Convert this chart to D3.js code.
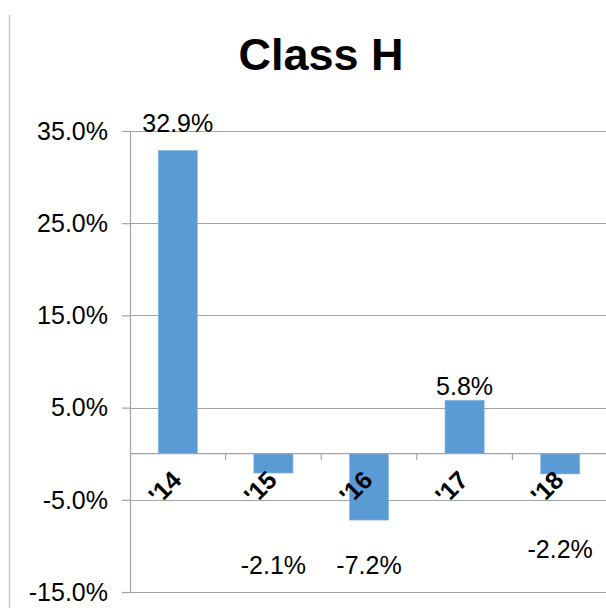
<!DOCTYPE html>
<html>
<head>
<meta charset="utf-8">
<script src="https://cdn.jsdelivr.net/npm/d3@7"></script>
<style>
  html, body { margin: 0; padding: 0; background: #fff; }
  svg { display: block; font-family: "Liberation Sans", Arial, sans-serif; }
</style>
</head>
<body>
<svg id="chart" width="606" height="608"></svg>
<script>
// ---- data ----
const title = "Class H";
const categories = ["'14", "'15", "'16", "'17", "'18"];
const values = [32.9, -2.1, -7.2, 5.8, -2.2];
const valueLabels = ["32.9%", "-2.1%", "-7.2%", "5.8%", "-2.2%"];
// label baseline positions, in value units (labels were placed by hand in the original)
const labelAt = [34.9, -13.1, -13.1, 6.4, -11.3];
const yTicks = [-15, -5, 5, 15, 25, 35];

// ---- layout ----
const svg = d3.select("#chart");
const W = 606, H = 608;
const plotLeft = 130, plotRight = 608, plotTop = 131, plotBottom = 592;

const x = d3.scaleBand().domain(categories).range([plotLeft, plotRight]).padding(0);
const y = d3.scaleLinear().domain([-15, 35]).range([plotBottom, plotTop]);
const barW = x.bandwidth() * 0.41;
const gridColor = "#a3a3a3";

// chart-area left border
svg.append("line")
  .attr("x1", 9.5).attr("x2", 9.5).attr("y1", 15).attr("y2", H)
  .attr("stroke", "#c8c8c8").attr("stroke-width", 1.5);

// title
svg.append("text")
  .attr("x", 321).attr("y", 70)
  .attr("text-anchor", "middle")
  .attr("font-size", 45).attr("font-weight", "bold")
  .attr("fill", "#000")
  .text(title);

// gridlines
svg.append("g").selectAll("line").data(yTicks).join("line")
  .attr("x1", plotLeft).attr("x2", W)
  .attr("y1", d => Math.round(y(d)) + 0.5).attr("y2", d => Math.round(y(d)) + 0.5)
  .attr("stroke", gridColor).attr("stroke-width", 1.2);

// y axis
const yAxis = d3.axisLeft(y)
  .tickValues(yTicks)
  .tickSize(8)
  .tickPadding(14)
  .tickFormat(d => d.toFixed(1) + "%");
const gy = svg.append("g").attr("transform", `translate(${plotLeft},0)`).call(yAxis);
gy.select(".domain").attr("stroke", gridColor).attr("stroke-width", 1.2);
gy.selectAll(".tick line").attr("stroke", gridColor).attr("stroke-width", 1.2);
gy.selectAll(".tick text")
  .attr("font-size", 25).attr("fill", "#000")
  .attr("font-family", "'Liberation Sans', Arial, sans-serif")
  .attr("dy", "0.33em");

// bars
svg.append("g").selectAll("rect").data(values).join("rect")
  .attr("x", (d, i) => x(categories[i]) + (x.bandwidth() - barW) / 2)
  .attr("y", d => y(Math.max(0, d)))
  .attr("width", barW)
  .attr("height", d => Math.abs(y(d) - y(0)))
  .attr("fill", "#5b9bd5")
  .attr("stroke", "#8fbce6").attr("stroke-width", 0.6);

// zero axis (category axis) with tick marks
const y0 = y(0);
svg.append("line")
  .attr("x1", plotLeft).attr("x2", W).attr("y1", y0).attr("y2", y0)
  .attr("stroke", gridColor).attr("stroke-width", 1.2);
svg.append("g").selectAll("line").data(categories.slice(1)).join("line")
  .attr("x1", d => x(d)).attr("x2", d => x(d))
  .attr("y1", y0).attr("y2", y0 + 6)
  .attr("stroke", gridColor).attr("stroke-width", 1.2);

// category labels, rotated
svg.append("g").selectAll("text").data(categories).join("text")
  .attr("transform", d => `translate(${x(d) + x.bandwidth() / 2 + 5},${y0 + 28}) rotate(-45)`)
  .attr("text-anchor", "end")
  .attr("font-size", 25).attr("font-weight", "bold")
  .attr("fill", "#000")
  .text(d => d);

// value labels
svg.append("g").selectAll("text").data(values).join("text")
  .attr("x", (d, i) => x(categories[i]) + x.bandwidth() / 2)
  .attr("y", (d, i) => y(labelAt[i]))
  .attr("text-anchor", "middle")
  .attr("font-size", 25).attr("fill", "#000")
  .text((d, i) => valueLabels[i]);
</script>
</body>
</html>
